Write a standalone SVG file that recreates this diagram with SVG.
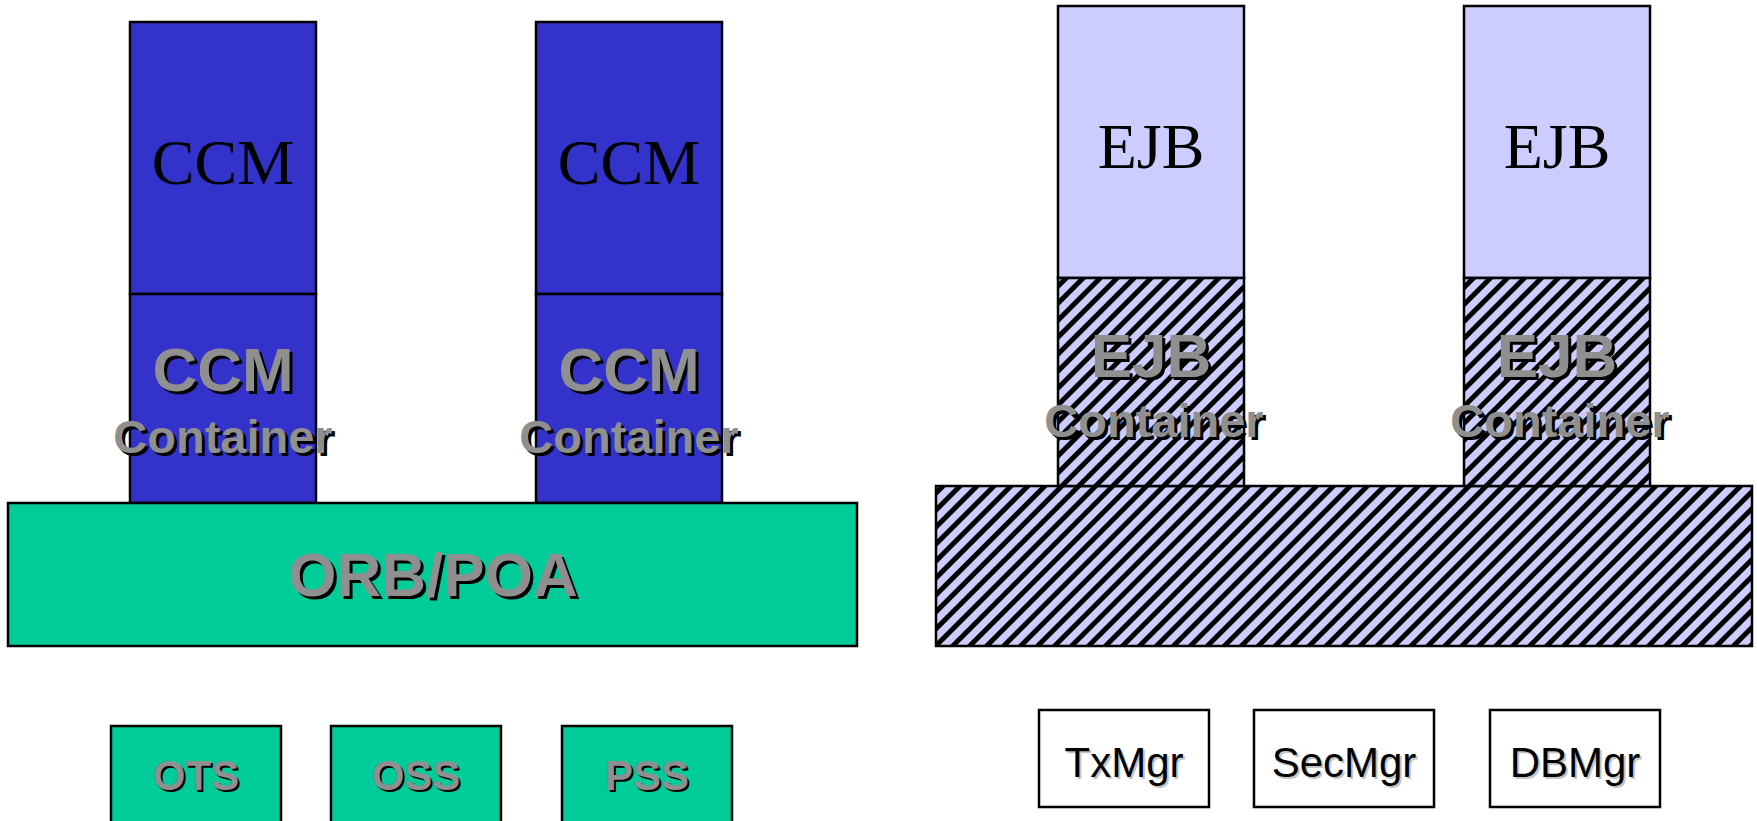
<svg xmlns="http://www.w3.org/2000/svg" width="1757" height="821" viewBox="0 0 1757 821">
<style>
.box{stroke:#000;stroke-width:2.5}
.blue{fill:#3333cc}
.green{fill:#00cc99}
.lav{fill:#ccccff}
.hatch{fill:url(#hatch)}
.white{fill:#fff}
.serif{font-family:"Liberation Serif","Times New Roman",serif;font-size:64px;fill:#000;text-anchor:middle}
.bold{font-family:"Liberation Sans",Arial,sans-serif;font-weight:bold;text-anchor:middle}
.sh{fill:#000}
.gr{fill:#8f8f8f}
.big{font-size:62px}
.mid{font-size:47px}
.sm{font-size:42px}
.mgr{font-family:"Liberation Sans",Arial,sans-serif;font-size:42px;text-anchor:middle}
.mgrsh{fill:#c4c4c4}
.mgrtx{fill:#000}
</style>
<defs>
<pattern id="hatch" patternUnits="userSpaceOnUse" width="12" height="12" patternTransform="rotate(45)">
<rect x="0" y="0" width="12" height="12" fill="#ccccff"/>
<rect x="0" y="0" width="5" height="12" fill="#000"/>
</pattern>
</defs>
<g id="connectors"/>

<!-- Left side: CCM -->
<g id="ccm1">
<rect class="box blue" x="130" y="22" width="186" height="272"/>
<text class="serif" x="223" y="184">CCM</text>
</g>
<g id="ccm1-container">
<rect class="box blue" x="130" y="294" width="186" height="209"/>
<text class="bold big sh" x="226" y="394">CCM</text>
<text class="bold big gr" x="223" y="391">CCM</text>
<text class="bold mid sh" x="226" y="456">Container</text>
<text class="bold mid gr" x="223" y="453">Container</text>
</g>
<g id="ccm2">
<rect class="box blue" x="536" y="22" width="186" height="272"/>
<text class="serif" x="629" y="184">CCM</text>
</g>
<g id="ccm2-container">
<rect class="box blue" x="536" y="294" width="186" height="209"/>
<text class="bold big sh" x="632" y="394">CCM</text>
<text class="bold big gr" x="629" y="391">CCM</text>
<text class="bold mid sh" x="632" y="456">Container</text>
<text class="bold mid gr" x="629" y="453">Container</text>
</g>
<g id="orb">
<rect class="box green" x="8" y="503" width="849" height="143"/>
<text class="bold big sh" x="436" y="599">ORB/POA</text>
<text class="bold big gr" x="433" y="596">ORB/POA</text>
</g>
<g id="ots">
<rect class="box green" x="111" y="726" width="170" height="110"/>
<text class="bold sm sh" x="198" y="792">OTS</text>
<text class="bold sm gr" x="196" y="790">OTS</text>
</g>
<g id="oss">
<rect class="box green" x="331" y="726" width="170" height="110"/>
<text class="bold sm sh" x="418" y="792">OSS</text>
<text class="bold sm gr" x="416" y="790">OSS</text>
</g>
<g id="pss">
<rect class="box green" x="562" y="726" width="170" height="110"/>
<text class="bold sm sh" x="649" y="792">PSS</text>
<text class="bold sm gr" x="647" y="790">PSS</text>
</g>

<!-- Right side: EJB -->
<g id="ejb-base">
<rect class="box hatch" x="936" y="486" width="816" height="160"/>
</g>
<g id="ejb1">
<rect class="box lav" x="1058" y="6" width="186" height="272"/>
<text class="serif" x="1151" y="168">EJB</text>
</g>
<g id="ejb1-container">
<rect class="box hatch" x="1058" y="278" width="186" height="208"/>
<text class="bold big sh" x="1154" y="380">EJB</text>
<text class="bold big gr" x="1151" y="377">EJB</text>
<text class="bold mid sh" x="1157" y="440">Container</text>
<text class="bold mid gr" x="1154" y="437">Container</text>
</g>
<g id="ejb2">
<rect class="box lav" x="1464" y="6" width="186" height="272"/>
<text class="serif" x="1557" y="168">EJB</text>
</g>
<g id="ejb2-container">
<rect class="box hatch" x="1464" y="278" width="186" height="208"/>
<text class="bold big sh" x="1560" y="380">EJB</text>
<text class="bold big gr" x="1557" y="377">EJB</text>
<text class="bold mid sh" x="1563" y="440">Container</text>
<text class="bold mid gr" x="1560" y="437">Container</text>
</g>
<g id="txmgr">
<rect class="box white" x="1039" y="710" width="170" height="97"/>
<text class="mgr mgrsh" x="1126" y="779">TxMgr</text>
<text class="mgr mgrtx" x="1124" y="777">TxMgr</text>
</g>
<g id="secmgr">
<rect class="box white" x="1254" y="710" width="180" height="97"/>
<text class="mgr mgrsh" x="1346" y="779">SecMgr</text>
<text class="mgr mgrtx" x="1344" y="777">SecMgr</text>
</g>
<g id="dbmgr">
<rect class="box white" x="1490" y="710" width="170" height="97"/>
<text class="mgr mgrsh" x="1577" y="779">DBMgr</text>
<text class="mgr mgrtx" x="1575" y="777">DBMgr</text>
</g>
</svg>
